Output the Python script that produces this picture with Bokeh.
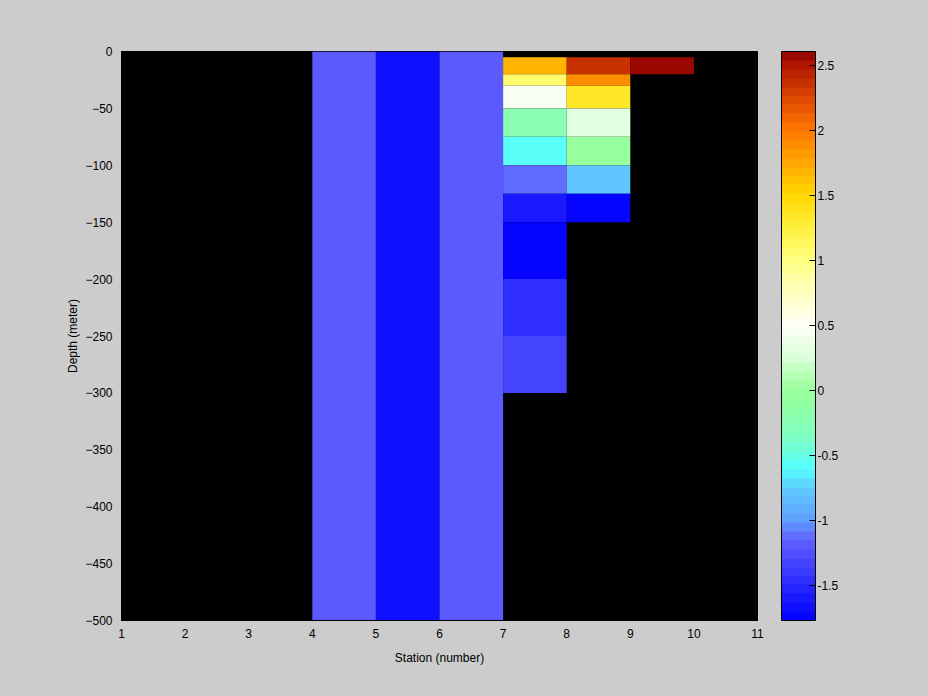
import numpy as np
from bokeh.plotting import figure
from bokeh.models import ColumnDataSource, LinearColorMapper, ColorBar, FixedTicker
from bokeh.transform import transform
from bokeh.embed import file_html
from bokeh.resources import INLINE

# ---------------- data ----------------
station_ticks = [1, 2, 3, 4, 5, 6, 7, 8, 9, 10, 11]
depth_ticks = [0, -50, -100, -150, -200, -250, -300, -350, -400, -450, -500]
cb_ticks = [-1.5, -1, -0.5, 0, 0.5, 1, 1.5, 2, 2.5]
cb_labels = ["-1.5", "-1", "-0.5", "0", "0.5", "1", "1.5", "2", "2.5"]
cb_low, cb_high = -1.77, 2.61

# columns spanning the full depth (station 4, 5, 6)
full_stations = [4, 5, 6]
full_values = [-1.22, -1.70, -1.22]
full_top, full_bottom = 0, -500

# profile columns (stations 7, 8, 9) on standard depth levels
depth_levels = [-5, -10, -20, -30, -50, -75, -100, -125, -150, -200, -250, -300]
st7_values = [1.72, 1.68, 1.05, 0.45, -0.20, -0.55, -1.15, -1.62, -1.77, -1.45, -1.32]
st8_values = [2.38, 2.38, 1.92, 1.33, 0.35, 0.00, -0.80, -1.77]
st9_values = [2.60, 2.60]
profile_stations = [7, 8, 9]
profile_values = [st7_values, st8_values, st9_values]

# ---------------- colormap (64 levels) ----------------
anchors = [(-1.77, "#0000ff"), (-1.5, "#2828ff"), (-1.25, "#5050ff"), (-1.15, "#6060ff"),
           (-1.0, "#60a0ff"), (-0.75, "#60cbff"), (-0.6, "#55ffff"), (-0.35, "#80ffc0"),
           (0.0, "#99ff99"), (0.25, "#d8ffd8"), (0.5, "#fffff8"), (0.75, "#ffffc0"),
           (1.0, "#ffff80"), (1.25, "#fff040"), (1.5, "#ffd800"), (1.75, "#ffa800"),
           (2.0, "#ff7800"), (2.25, "#dd4800"), (2.5, "#b01800"), (2.61, "#900000")]
av = np.array([a[0] for a in anchors])
ac = np.array([[int(a[1][i:i + 2], 16) for i in (1, 3, 5)] for a in anchors], float)
n_levels = 64
centers = cb_low + (np.arange(n_levels) + 0.5) * (cb_high - cb_low) / n_levels
palette = []
for v in centers:
    rgb = [np.interp(v, av, ac[:, k]) for k in range(3)]
    palette.append("#%02x%02x%02x" % tuple(int(round(c)) for c in rgb))

mapper = LinearColorMapper(palette=palette, low=cb_low, high=cb_high)

# ---------------- cells ----------------
left, right, top, bottom, val = [], [], [], [], []
for s, v in zip(full_stations, full_values):
    left.append(s); right.append(s + 1); top.append(full_top); bottom.append(full_bottom); val.append(v)
for s, vals in zip(profile_stations, profile_values):
    for i, v in enumerate(vals):
        left.append(s); right.append(s + 1)
        top.append(depth_levels[i]); bottom.append(depth_levels[i + 1]); val.append(v)
src = ColumnDataSource(dict(left=left, right=right, top=top, bottom=bottom, val=val))

FONT = "Liberation Sans"
FS = "12px"

p = figure(width=920, height=690, x_range=(1, 11), y_range=(-500, 0),
           output_backend="svg", toolbar_location=None,
           min_border_left=121, min_border_right=163, min_border_top=51, min_border_bottom=70,
           background_fill_color="black", border_fill_color="#cccccc",
           outline_line_color="black")
p.quad(left="left", right="right", top="top", bottom="bottom", source=src,
       fill_color=transform("val", mapper), line_color=None)

p.grid.visible = False
for ax in (p.xaxis[0], p.yaxis[0]):
    ax.axis_line_color = "black"
    ax.major_tick_out = 0
    ax.major_tick_in = 0
    ax.minor_tick_line_color = None
    ax.major_label_text_font = FONT
    ax.major_label_text_font_size = FS
    ax.major_label_text_color = "black"
    ax.axis_label_text_font = FONT
    ax.axis_label_text_font_size = FS
    ax.axis_label_text_font_style = "normal"
    ax.axis_label_text_color = "black"
p.xaxis.ticker = FixedTicker(ticks=station_ticks)
p.yaxis.ticker = FixedTicker(ticks=depth_ticks)
p.xaxis.axis_label = "Station (number)"
p.yaxis.axis_label = "Depth (meter)"
p.xaxis.major_label_standoff = 8
p.yaxis.major_label_standoff = 9
p.xaxis.axis_label_standoff = 10
p.yaxis.axis_label_standoff = 2

cb = ColorBar(color_mapper=mapper, width=34, height=569, margin=0, padding=0,
              ticker=FixedTicker(ticks=cb_ticks),
              major_label_overrides={t: l for t, l in zip(cb_ticks, cb_labels)},
              major_label_text_font=FONT, major_label_text_font_size=FS,
              major_label_text_color="black",
              major_tick_line_color="black", major_tick_in=6, major_tick_out=0,
              minor_tick_line_color=None,
              bar_line_color="black", border_line_color=None,
              background_fill_alpha=0,
              label_standoff=2, location=(24, 0))
p.add_layout(cb, "right")

html = file_html(p, INLINE)
html = html.replace("<body>", '<body style="background:#cccccc">')
open("out.html", "w").write(html)
